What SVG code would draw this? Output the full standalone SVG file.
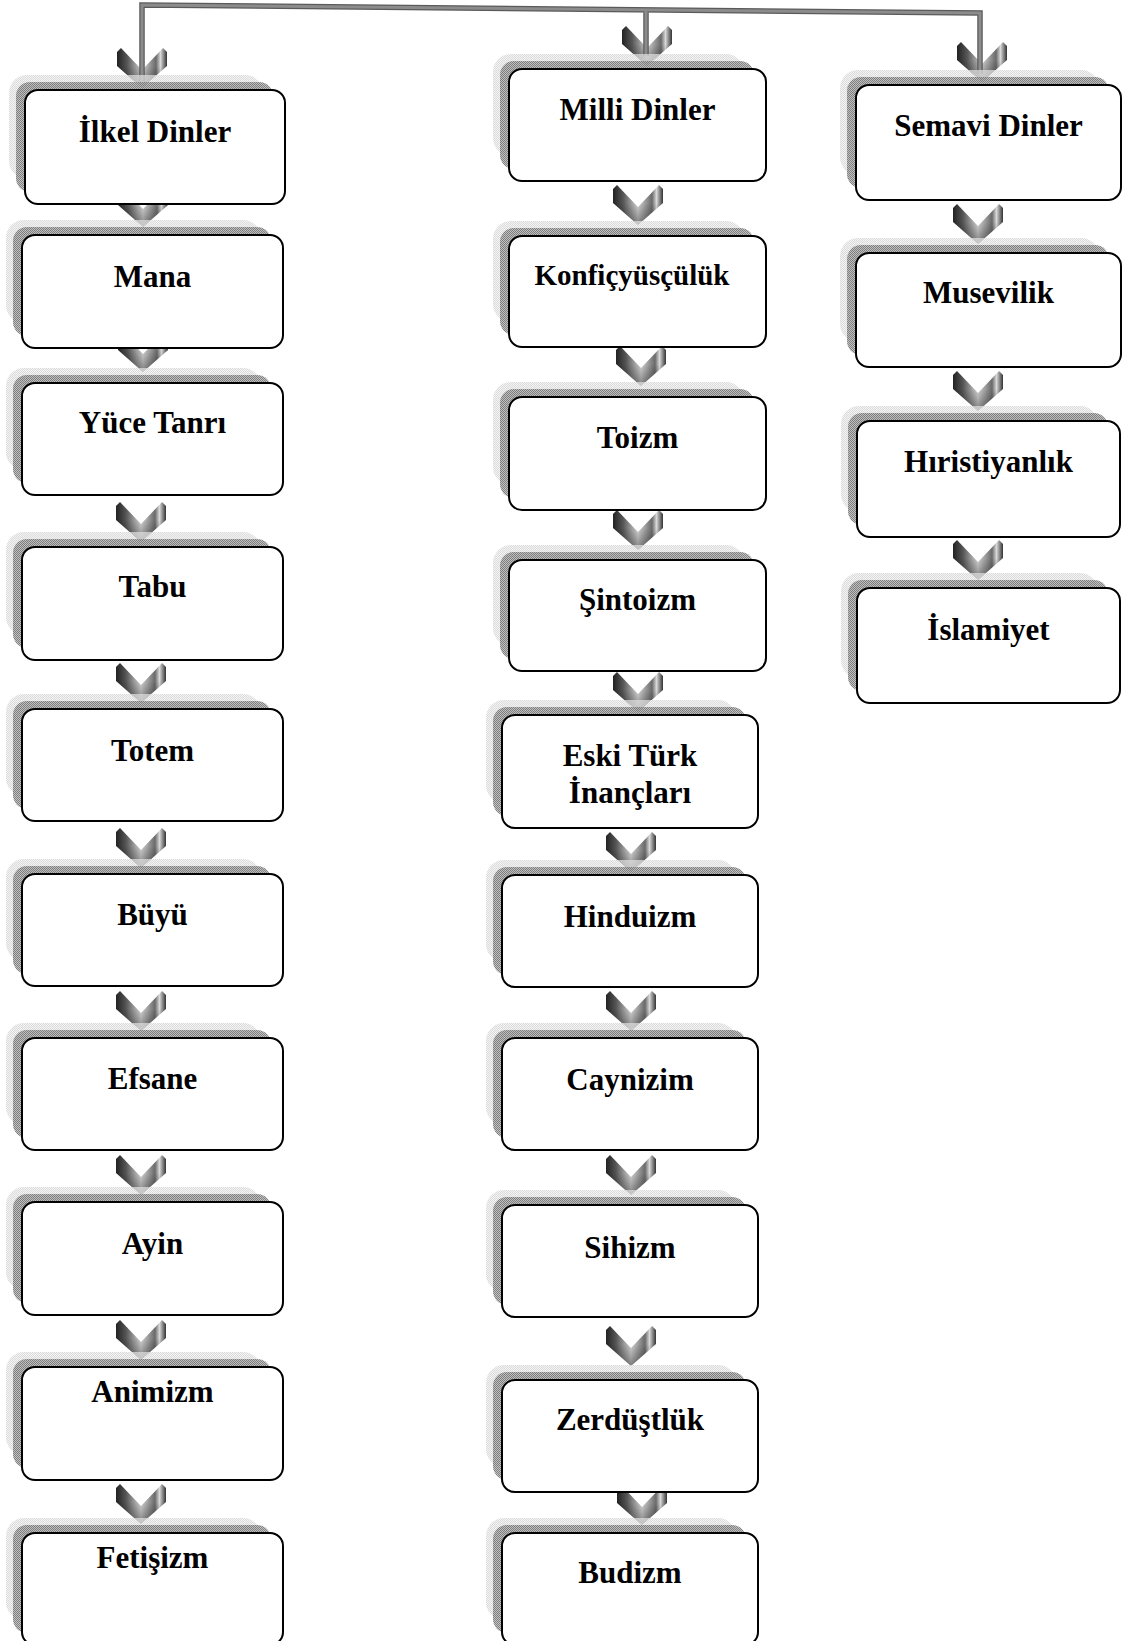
<svg xmlns="http://www.w3.org/2000/svg" width="1127" height="1641" viewBox="0 0 1127 1641">
<style>
.box{fill:#fff;stroke:#000;stroke-width:2}
.band{fill:url(#stD)}
.halo{fill:url(#stL)}
text{font-family:"Liberation Serif","Times New Roman",serif;font-weight:bold;font-size:31px;text-anchor:middle;fill:#000}
.bar{fill:none;stroke-linejoin:miter}
</style>
<defs>
<pattern id="stD" width="2" height="2" patternUnits="userSpaceOnUse">
<rect width="2" height="2" fill="#a8a8a8" fill-opacity="0.7"/>
<rect width="1" height="1" fill="#6a6a6a" fill-opacity="0.75"/>
<rect x="1" y="1" width="1" height="1" fill="#6a6a6a" fill-opacity="0.75"/>
</pattern>
<pattern id="stL" width="2" height="2" patternUnits="userSpaceOnUse">
<rect width="2" height="2" fill="#ececec" fill-opacity="0.6"/>
<rect width="1" height="1" fill="#cccccc" fill-opacity="0.65"/>
<rect x="1" y="1" width="1" height="1" fill="#cccccc" fill-opacity="0.65"/>
</pattern>
<linearGradient id="chevG" x1="0" y1="0" x2="1" y2="0">
<stop offset="0" stop-color="#222"/>
<stop offset="0.2" stop-color="#555"/>
<stop offset="0.5" stop-color="#d4d4d4"/>
<stop offset="0.78" stop-color="#6a6a6a"/>
<stop offset="0.87" stop-color="#d8d8d8"/>
<stop offset="1" stop-color="#333"/>
</linearGradient>
<linearGradient id="chevV" x1="0" y1="0" x2="0" y2="1">
<stop offset="0.45" stop-color="#000" stop-opacity="0"/>
<stop offset="1" stop-color="#000" stop-opacity="0.4"/>
</linearGradient>
<g id="chev">
<path d="M-25,-36 L-21,-40 L0,-18 L21,-40 L25,-36 L25,-22 L0,0 L-25,-22Z" fill="url(#chevG)"/>
<path d="M-25,-36 L-21,-40 L0,-18 L21,-40 L25,-36 L25,-22 L0,0 L-25,-22Z" fill="url(#chevV)"/>
</g>
</defs>
<rect width="1127" height="1641" fill="#fff"/>

<g id="connectors">
<use href="#chev" transform="translate(142,88)"/>
<use href="#chev" transform="translate(143,227)"/>
<use href="#chev" transform="translate(143,372)"/>
<use href="#chev" transform="translate(141,542)"/>
<use href="#chev" transform="translate(141,703)"/>
<use href="#chev" transform="translate(141,868)"/>
<use href="#chev" transform="translate(141,1031)"/>
<use href="#chev" transform="translate(141,1195)"/>
<use href="#chev" transform="translate(141,1360)"/>
<use href="#chev" transform="translate(141,1524)"/>
<use href="#chev" transform="translate(647,66)"/>
<use href="#chev" transform="translate(638,225)"/>
<use href="#chev" transform="translate(641,386)"/>
<use href="#chev" transform="translate(638,550)"/>
<use href="#chev" transform="translate(638,712)"/>
<use href="#chev" transform="translate(631,872)"/>
<use href="#chev" transform="translate(631,1031)"/>
<use href="#chev" transform="translate(631,1195)"/>
<use href="#chev" transform="translate(631,1366)"/>
<use href="#chev" transform="translate(642,1525)"/>
<use href="#chev" transform="translate(982,82)"/>
<use href="#chev" transform="translate(978,244)"/>
<use href="#chev" transform="translate(978,411)"/>
<use href="#chev" transform="translate(978,580)"/>
<path class="bar" d="M142,84 L142,5 L980,13 L980,74 M646,9.8 L646,56" stroke="#5a5a5a" stroke-width="5.5"/>
<path class="bar" d="M142,84 L142,5 L980,13 L980,74 M646,9.8 L646,56" stroke="#8c8c8c" stroke-width="3"/>
</g>

<g id="n-ilkel"><rect class="halo" x="9" y="75" width="254" height="104" rx="18"/><rect class="band" x="16" y="82" width="257" height="110" rx="14"/><rect class="box" x="25" y="90" width="260" height="114" rx="13"/><text x="155" y="142">İlkel Dinler</text></g>
<g id="n-mana"><rect class="halo" x="6" y="220" width="255" height="103" rx="18"/><rect class="band" x="13" y="227" width="258" height="109" rx="14"/><rect class="box" x="22" y="235" width="261" height="113" rx="13"/><text x="152.5" y="287">Mana</text></g>
<g id="n-yuce"><rect class="halo" x="6" y="368" width="255" height="102" rx="18"/><rect class="band" x="13" y="375" width="258" height="108" rx="14"/><rect class="box" x="22" y="383" width="261" height="112" rx="13"/><text x="152.5" y="433">Yüce Tanrı</text></g>
<g id="n-tabu"><rect class="halo" x="6" y="532" width="255" height="103" rx="18"/><rect class="band" x="13" y="539" width="258" height="109" rx="14"/><rect class="box" x="22" y="547" width="261" height="113" rx="13"/><text x="152.5" y="597">Tabu</text></g>
<g id="n-totem"><rect class="halo" x="6" y="694" width="255" height="102" rx="18"/><rect class="band" x="13" y="701" width="258" height="108" rx="14"/><rect class="box" x="22" y="709" width="261" height="112" rx="13"/><text x="152.5" y="761">Totem</text></g>
<g id="n-buyu"><rect class="halo" x="6" y="859" width="255" height="102" rx="18"/><rect class="band" x="13" y="866" width="258" height="108" rx="14"/><rect class="box" x="22" y="874" width="261" height="112" rx="13"/><text x="152.5" y="925">Büyü</text></g>
<g id="n-efsane"><rect class="halo" x="6" y="1023" width="255" height="102" rx="18"/><rect class="band" x="13" y="1030" width="258" height="108" rx="14"/><rect class="box" x="22" y="1038" width="261" height="112" rx="13"/><text x="152.5" y="1089">Efsane</text></g>
<g id="n-ayin"><rect class="halo" x="6" y="1187" width="255" height="103" rx="18"/><rect class="band" x="13" y="1194" width="258" height="109" rx="14"/><rect class="box" x="22" y="1202" width="261" height="113" rx="13"/><text x="152.5" y="1254">Ayin</text></g>
<g id="n-animizm"><rect class="halo" x="6" y="1352" width="255" height="103" rx="18"/><rect class="band" x="13" y="1359" width="258" height="109" rx="14"/><rect class="box" x="22" y="1367" width="261" height="113" rx="13"/><text x="152.5" y="1402">Animizm</text></g>
<g id="n-fetisizm"><rect class="halo" x="6" y="1518" width="255" height="102" rx="18"/><rect class="band" x="13" y="1525" width="258" height="108" rx="14"/><rect class="box" x="22" y="1533" width="261" height="112" rx="13"/><text x="152.5" y="1568">Fetişizm</text></g>

<g id="n-milli"><rect class="halo" x="493" y="54" width="251" height="102" rx="18"/><rect class="band" x="500" y="61" width="254" height="108" rx="14"/><rect class="box" x="509" y="69" width="257" height="112" rx="13"/><text x="637.5" y="120">Milli Dinler</text></g>
<g id="n-konf"><rect class="halo" x="493" y="221" width="251" height="101" rx="18"/><rect class="band" x="500" y="228" width="254" height="107" rx="14"/><rect class="box" x="509" y="236" width="257" height="111" rx="13"/><text x="632" y="285" style="font-size:29px">Konfiçyüsçülük</text></g>
<g id="n-toizm"><rect class="halo" x="493" y="382" width="251" height="103" rx="18"/><rect class="band" x="500" y="389" width="254" height="109" rx="14"/><rect class="box" x="509" y="397" width="257" height="113" rx="13"/><text x="637.5" y="448">Toizm</text></g>
<g id="n-sinto"><rect class="halo" x="493" y="545" width="251" height="101" rx="18"/><rect class="band" x="500" y="552" width="254" height="107" rx="14"/><rect class="box" x="509" y="560" width="257" height="111" rx="13"/><text x="637.5" y="610">Şintoizm</text></g>
<g id="n-eski"><rect class="halo" x="486" y="700" width="250" height="103" rx="18"/><rect class="band" x="493" y="707" width="253" height="109" rx="14"/><rect class="box" x="502" y="715" width="256" height="113" rx="13"/><text x="630" y="766">Eski Türk</text><text x="630" y="803">İnançları</text></g>
<g id="n-hindu"><rect class="halo" x="486" y="860" width="250" height="102" rx="18"/><rect class="band" x="493" y="867" width="253" height="108" rx="14"/><rect class="box" x="502" y="875" width="256" height="112" rx="13"/><text x="630" y="927">Hinduizm</text></g>
<g id="n-cayn"><rect class="halo" x="486" y="1023" width="250" height="102" rx="18"/><rect class="band" x="493" y="1030" width="253" height="108" rx="14"/><rect class="box" x="502" y="1038" width="256" height="112" rx="13"/><text x="630" y="1090">Caynizim</text></g>
<g id="n-sihizm"><rect class="halo" x="486" y="1190" width="250" height="102" rx="18"/><rect class="band" x="493" y="1197" width="253" height="108" rx="14"/><rect class="box" x="502" y="1205" width="256" height="112" rx="13"/><text x="630" y="1258">Sihizm</text></g>
<g id="n-zerd"><rect class="halo" x="486" y="1365" width="250" height="102" rx="18"/><rect class="band" x="493" y="1372" width="253" height="108" rx="14"/><rect class="box" x="502" y="1380" width="256" height="112" rx="13"/><text x="630" y="1430">Zerdüştlük</text></g>
<g id="n-budizm"><rect class="halo" x="486" y="1518" width="250" height="102" rx="18"/><rect class="band" x="493" y="1525" width="253" height="108" rx="14"/><rect class="box" x="502" y="1533" width="256" height="112" rx="13"/><text x="630" y="1583">Budizm</text></g>

<g id="n-semavi"><rect class="halo" x="840" y="70" width="259" height="105" rx="18"/><rect class="band" x="847" y="77" width="262" height="111" rx="14"/><rect class="box" x="856" y="85" width="265" height="115" rx="13"/><text x="988.5" y="136">Semavi Dinler</text></g>
<g id="n-musevi"><rect class="halo" x="840" y="238" width="259" height="104" rx="18"/><rect class="band" x="847" y="245" width="262" height="110" rx="14"/><rect class="box" x="856" y="253" width="265" height="114" rx="13"/><text x="988.5" y="303">Musevilik</text></g>
<g id="n-hiris"><rect class="halo" x="841" y="406" width="257" height="106" rx="18"/><rect class="band" x="848" y="413" width="260" height="112" rx="14"/><rect class="box" x="857" y="421" width="263" height="116" rx="13"/><text x="988.5" y="472">Hıristiyanlık</text></g>
<g id="n-islam"><rect class="halo" x="841" y="573" width="257" height="105" rx="18"/><rect class="band" x="848" y="580" width="260" height="111" rx="14"/><rect class="box" x="857" y="588" width="263" height="115" rx="13"/><text x="988.5" y="640">İslamiyet</text></g>
</svg>
